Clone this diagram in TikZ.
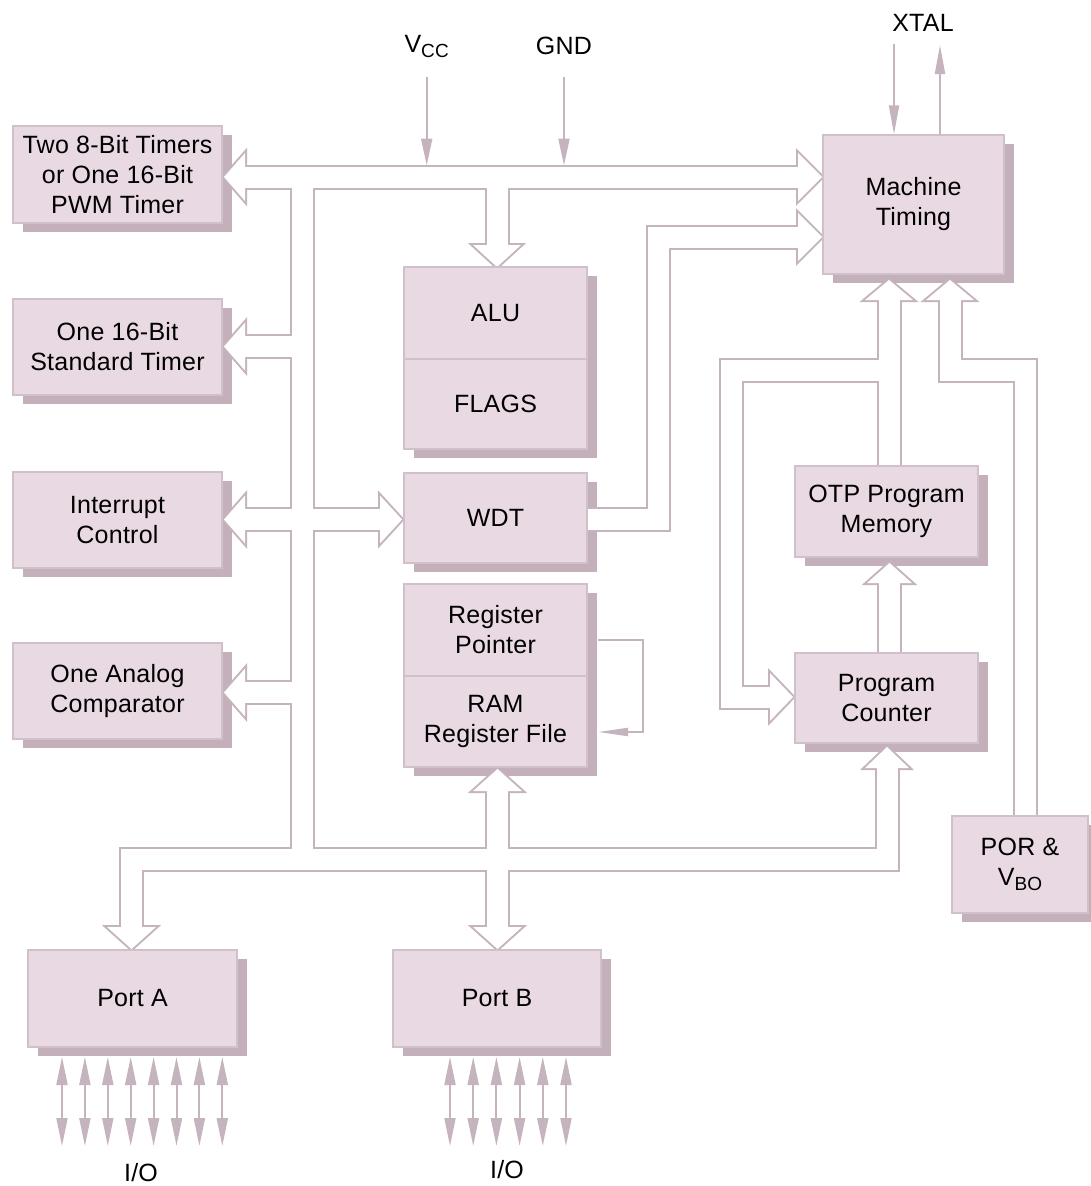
\documentclass[tikz,border=0pt]{standalone}
\usepackage{fontspec}
\setmainfont{Liberation Sans}[LetterSpace=1]
\usetikzlibrary{arrows.meta}
\definecolor{boxfill}{HTML}{E9D9E3}
\definecolor{shadowc}{HTML}{C3B0BB}
\definecolor{busc}{HTML}{C5B3BE}
\definecolor{boxedge}{HTML}{CFC0C9}
\newcommand\lowsub[1]{\raisebox{-5pt}{\fontsize{19}{19}\selectfont #1}}
\newcommand\BusNet[2]{%
 \path[#1] (241,177) -- (802,177);
 \path[#1] (302,177) -- (302,859.5);
 \path[#1] (302,346.5) -- (241,346.5);
 \path[#1] (241,519.5) -- (384,519.5);
 \path[#1] (302,692.5) -- (241,692.5);
 \path[#1] (497,177) -- (497,249);
 \path[#1] (587,519.5) -- (658.5,519.5) -- (658.5,237) -- (802,237);
 \path[#1] (131.5,931) -- (131.5,859.5) -- (887,859.5) -- (887,764);
 \path[#1] (497.5,787) -- (497.5,931);
 \path[#1] (889,466) -- (889,296);
 \path[#1] (889,370) -- (731,370) -- (731,697) -- (774,697);
 \path[#1] (889.5,653) -- (889.5,579);
 \path[#1] (1025,816) -- (1025,370) -- (950,370) -- (950,296);
 \path[#2] (224,177) -- (245,153) -- (245,201) -- cycle;
 \path[#2] (224,346.5) -- (245,322.5) -- (245,370.5) -- cycle;
 \path[#2] (224,519.5) -- (245,495.5) -- (245,543.5) -- cycle;
 \path[#2] (224,692.5) -- (245,668.5) -- (245,716.5) -- cycle;
 \path[#2] (402,519.5) -- (380,495.5) -- (380,543.5) -- cycle;
 \path[#2] (822,177) -- (798,153) -- (798,201) -- cycle;
 \path[#2] (822,237) -- (798,213) -- (798,261) -- cycle;
 \path[#2] (497,267) -- (473,245) -- (521,245) -- cycle;
 \path[#2] (131.5,949) -- (107,927) -- (156,927) -- cycle;
 \path[#2] (497.5,949) -- (473,927) -- (522,927) -- cycle;
 \path[#2] (497.5,769) -- (473,791) -- (522,791) -- cycle;
 \path[#2] (887,747) -- (865,768) -- (909,768) -- cycle;
 \path[#2] (889,280) -- (865,300) -- (913,300) -- cycle;
 \path[#2] (950,280) -- (926,300) -- (974,300) -- cycle;
 \path[#2] (793,697) -- (770,673) -- (770,721) -- cycle;
 \path[#2] (889.5,563) -- (867,583) -- (912,583) -- cycle;
}
\newcommand\BoxList{%
 \B{tmr}{13}{126}{222}{223}{Two 8-Bit Timers\\or One 16-Bit\\PWM Timer}%
 \B{std}{13}{299}{222}{395}{One 16-Bit\\Standard Timer}%
 \B{irq}{13}{472}{222}{568}{Interrupt\\Control}%
 \B{cmp}{13}{643}{222}{739}{One Analog\\Comparator}%
 \B{alu}{404}{267}{587}{449}{}%
 \B{wdt}{404}{473}{587}{563}{WDT}%
 \B{reg}{404}{584}{587}{767}{}%
 \B{mt}{823}{135}{1004}{274}{Machine\\Timing}%
 \B{otp}{795}{466}{978}{557}{OTP Program\\Memory}%
 \B{pc}{795}{653}{978}{743}{Program\\Counter}%
 \B{por}{952}{816}{1088}{913}{POR \&\\V\lowsub{BO}}%
 \B{pa}{28}{950}{237}{1047}{Port A}%
 \B{pb}{393}{950}{601}{1047}{Port B}%
}
\begin{document}
\begin{tikzpicture}[x=1pt, y=-1pt, font=\fontsize{25}{30}\selectfont,
  box/.style={draw=boxedge, line width=1.5pt, fill=boxfill, inner sep=0pt, align=center},
  lbl/.style={inner sep=0pt, align=center},
  busout/.style={draw=busc, line width=25pt, line join=miter, line cap=butt},
  busin/.style={draw=white, line width=21pt, line join=miter, line cap=butt},
  headout/.style={draw=busc, fill=busc, line width=4pt, line join=miter},
  headin/.style={fill=white},
  thinline/.style={draw=busc, line width=2pt}]
\useasboundingbox (0,0) rectangle (1090,1186);
% shadows
\def\B#1#2#3#4#5#6{\fill[shadowc] ({#2+10},{#3+9}) rectangle ({#4+10},{#5+9});}
\BoxList
% hollow buses
\BusNet{busout}{headout}
\BusNet{busin}{headin}
% boxes
\def\B#1#2#3#4#5#6{\node[box, minimum width={(#4-#2)*1pt}, minimum height={(#5-#3)*1pt}] (#1) at ({(#2+#4)/2},{(#3+#5)/2}) {#6};}
\BoxList
\draw[boxedge, line width=1.5pt] (alu.west |- 0,359) -- (alu.east |- 0,359);
\draw[boxedge, line width=1.5pt] (reg.west |- 0,676) -- (reg.east |- 0,676);
\node[lbl] (alut) at (495.5,313) {ALU};
\node[lbl] (flagt) at (495.5,404) {FLAGS};
\node[lbl] (rpt) at (495.5,630) {Register\\Pointer};
\node[lbl] (ramt) at (495.5,721) {RAM\\Register File};
% labels
\node[lbl, anchor=base] (vcc) at (426.7,52) {V\lowsub{CC}};
\node[lbl, anchor=base] (gnd) at (564,54) {GND};
\node[lbl, anchor=base] (xtal) at (923,31) {XTAL};
\node[lbl, anchor=base] (ioa) at (141,1181) {I/O};
\node[lbl, anchor=base] (iob) at (507,1178) {I/O};
\coordinate (vccend) at (426.7,77);
\coordinate (gndend) at (564,77);
% thin arrows
\draw[thinline, -{Triangle[length=27pt,width=11pt]}] (vccend) -- (426.7,165.5);
\draw[thinline, -{Triangle[length=27pt,width=11pt]}] (gndend) -- (564,165.5);
\draw[thinline, -{Triangle[length=29pt,width=10pt]}] (894,44) -- (mt.north -| 894,0);
\draw[thinline, -{Triangle[length=29pt,width=10pt]}] (mt.north -| 940,0) -- (940,45);
\draw[thinline, -{Triangle[length=30pt,width=8pt]}] (598,640) -- (643,640) -- (643,732) -- (598,732);
\foreach \i in {0,...,7}
  \draw[thinline, {Triangle[length=28pt,width=11pt]}-{Triangle[length=28pt,width=11pt]}] ({62+22.9*\i},1057) -- ({62+22.9*\i},1146);
\foreach \i in {0,...,5}
  \draw[thinline, {Triangle[length=28pt,width=11pt]}-{Triangle[length=28pt,width=11pt]}] ({450+23.2*\i},1057) -- ({450+23.2*\i},1146);
\end{tikzpicture}
\end{document}
